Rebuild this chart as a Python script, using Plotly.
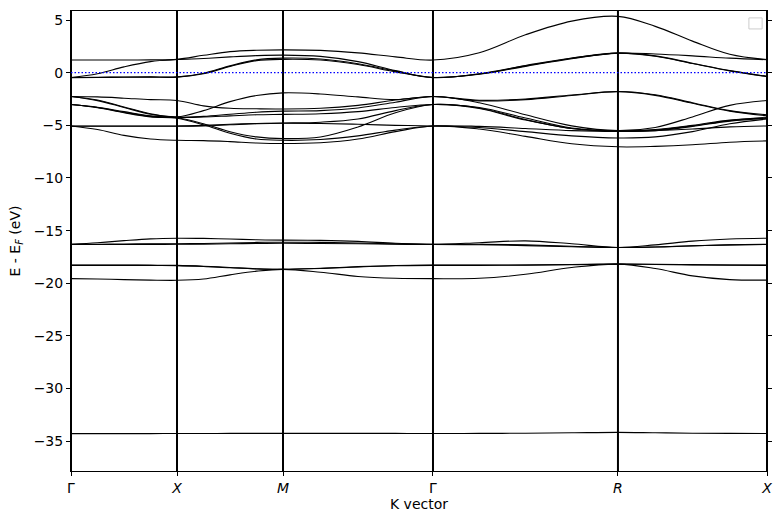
import numpy as np
import plotly.graph_objects as go

# High-symmetry points along the path (units of 2*pi/a, simple cubic)
sym_labels = ["Γ", "<i>X</i>", "<i>M</i>", "Γ", "<i>R</i>", "<i>X</i>"]
sym_k = [0.0, 0.5, 1.0, 1.7075, 2.580, 3.283]

# Band energies (eV, relative to E_F) read at 5 points per segment
# (segment ends + quarter points): G-X, X-M, M-G, G-R, R-X  -> 21 values
band_A1 = [-34.28, -34.28, -34.28, -34.28, -34.27, -34.27, -34.26, -34.26, -34.26,
           -34.26, -34.26, -34.26, -34.27, -34.26, -34.24, -34.2, -34.16,
           -34.2, -34.24, -34.26, -34.27]

band_B1 = [-16.3, -16.15, -15.95, -15.78, -15.72, -15.74, -15.8, -15.87, -15.9,
           -15.93, -16.02, -16.2, -16.3, -16.15, -15.97, -16.25, -16.6,
           -16.35, -16.0, -15.8, -15.72]
band_B2 = [-16.3, -16.29, -16.27, -16.25, -16.25, -16.22, -16.17, -16.12, -16.1,
           -16.12, -16.18, -16.26, -16.3, -16.3, -16.35, -16.48, -16.6,
           -16.55, -16.45, -16.35, -16.3]
band_B3 = [-16.32, -16.32, -16.32, -16.31, -16.3, -16.28, -16.25, -16.22, -16.2,
           -16.22, -16.25, -16.29, -16.32, -16.34, -16.42, -16.53, -16.6,
           -16.56, -16.44, -16.35, -16.32]
band_B4 = [-18.27, -18.27, -18.27, -18.28, -18.3, -18.38, -18.5, -18.62, -18.68,
           -18.58, -18.42, -18.31, -18.27, -18.27, -18.26, -18.22, -18.18,
           -18.2, -18.23, -18.26, -18.27]
band_B5 = [-18.3, -18.3, -18.3, -18.31, -18.32, -18.4, -18.53, -18.64, -18.68,
           -18.6, -18.45, -18.34, -18.3, -18.3, -18.28, -18.23, -18.18,
           -18.21, -18.25, -18.28, -18.3]
band_B6 = [-19.56, -19.6, -19.65, -19.7, -19.72, -19.6, -19.2, -18.85, -18.68,
           -18.95, -19.35, -19.52, -19.56, -19.53, -19.15, -18.5, -18.18,
           -18.6, -19.3, -19.65, -19.7]

band_V1 = [-2.26, -2.3, -2.42, -2.56, -2.64, -3.15, -3.38, -3.43, -3.45,
           -3.38, -3.1, -2.6, -2.26, -2.62, -2.5, -2.12, -1.79,
           -2.1, -2.85, -3.6, -4.0]
band_V2 = [-2.26, -2.6, -3.25, -3.9, -4.2, -3.6, -2.75, -2.17, -1.92,
           -2.02, -2.3, -2.55, -2.26, -2.68, -2.56, -2.16, -1.8,
           -2.15, -2.9, -3.65, -4.1]
band_V3 = [-2.26, -2.65, -3.3, -3.95, -4.22, -4.15, -3.95, -3.75, -3.65,
           -3.6, -3.35, -2.8, -2.26, -2.85, -4.0, -5.05, -5.5,
           -5.2, -4.2, -3.1, -2.64]
band_V4 = [-3.02, -3.3, -3.75, -4.15, -4.28, -4.85, -5.6, -6.1, -6.26,
           -6.1, -5.15, -3.8, -3.02, -3.35, -4.45, -5.3, -5.55,
           -5.45, -5.05, -4.55, -4.25]
band_V5 = [-3.02, -3.32, -3.8, -4.2, -4.33, -4.95, -5.75, -6.3, -6.42,
           -6.35, -6.0, -5.45, -5.06, -5.1, -5.3, -5.5, -5.57,
           -5.5, -5.35, -5.15, -5.06]
band_V6 = [-3.02, -3.28, -3.7, -4.1, -4.25, -4.2, -4.1, -4.0, -3.96,
           -3.9, -3.7, -3.3, -3.02, -3.3, -4.3, -5.25, -5.52,
           -5.4, -5.0, -4.5, -4.3]
band_V7 = [-5.06, -5.06, -5.06, -5.06, -5.06, -5.0, -4.9, -4.82, -4.78,
           -4.7, -4.4, -3.6, -3.02, -3.4, -4.5, -5.3, -5.56,
           -5.5, -5.1, -4.6, -4.35]
band_V8 = [-5.08, -5.08, -5.08, -5.08, -5.08, -5.05, -4.95, -4.85, -4.8,
           -4.82, -4.9, -5.0, -5.06, -5.2, -5.6, -6.0, -6.2,
           -6.1, -5.6, -4.85, -4.4]
band_V9 = [-5.06, -5.4, -5.95, -6.3, -6.42, -6.45, -6.55, -6.68, -6.73,
           -6.65, -6.3, -5.6, -5.06, -5.35, -6.05, -6.75, -7.04,
           -7.0, -6.85, -6.6, -6.48]

band_U1 = [1.2, 1.2, 1.2, 1.22, 1.27, 1.65, 2.0, 2.13, 2.17,
           2.12, 1.88, 1.5, 1.2, 1.9, 3.6, 4.9, 5.35,
           4.4, 3.0, 1.75, 1.25]
band_U2 = [-0.45, -0.1, 0.55, 1.05, 1.25, 1.35, 1.5, 1.62, 1.67,
           1.55, 1.05, 0.2, -0.45, -0.12, 0.65, 1.38, 1.86,
           1.78, 1.6, 1.38, 1.23]
band_U3 = [-0.45, -0.43, -0.41, -0.4, -0.4, -0.1, 0.6, 1.15, 1.27,
           1.2, 0.78, 0.08, -0.45, -0.15, 0.6, 1.33, 1.86,
           1.6, 0.9, 0.2, -0.35]
band_U4 = [-0.47, -0.45, -0.43, -0.42, -0.42, -0.05, 0.65, 1.22, 1.38,
           1.3, 0.85, 0.15, -0.47, -0.1, 0.68, 1.4, 1.86,
           1.57, 0.87, 0.17, -0.37]

bands = [band_A1, band_B1, band_B2, band_B3, band_B4, band_B5, band_B6,
         band_V1, band_V2, band_V3, band_V4, band_V5, band_V6, band_V7,
         band_V8, band_V9, band_U1, band_U2, band_U3, band_U4]

# k coordinates of the sample points (quarter points of each segment)
k_path = [sym_k[0]]
for a, b in zip(sym_k[:-1], sym_k[1:]):
    k_path.extend(np.linspace(a, b, 5)[1:].tolist())

fig = go.Figure()
for bnd in bands:
    fig.add_trace(go.Scatter(x=k_path, y=bnd, mode="lines",
                             line=dict(color="black", width=1.1, shape="spline", smoothing=1.0),
                             showlegend=False, hoverinfo="skip"))

for k in sym_k:
    fig.add_vline(x=k, line_color="black", line_width=2)

fig.add_hline(y=0, line_color="blue", line_width=1.3, line_dash="1.5px,2px")

# empty legend frame (top right)
fig.add_shape(type="rect", xref="paper", yref="paper",
              x0=0.974, x1=0.993, y0=0.961, y1=0.985,
              line=dict(color="#cccccc", width=1), fillcolor="white")

font = dict(family="DejaVu Sans", size=14, color="black")
fig.update_layout(
    width=784, height=520,
    margin=dict(l=71, r=17, t=10, b=48),
    plot_bgcolor="white", paper_bgcolor="white",
    font=font, showlegend=False,
)
fig.update_xaxes(range=[0, 3.283], tickvals=sym_k, ticktext=sym_labels,
                 ticks="outside", ticklen=4, tickcolor="black",
                 showline=True, linecolor="black", linewidth=1, mirror=True,
                 showgrid=False, zeroline=False,
                 title=dict(text="K vector", standoff=4, font=font))
fig.update_yaxes(range=[-37.83, 5.86], tickvals=[5, 0, -5, -10, -15, -20, -25, -30, -35],
                 ticks="outside", ticklen=4, tickcolor="black",
                 showline=True, linecolor="black", linewidth=1, mirror="ticks",
                 showgrid=False, zeroline=False,
                 title=dict(text="E - E<sub><i>F</i></sub> (eV)", standoff=9, font=font))

fig.write_html("out.html")
